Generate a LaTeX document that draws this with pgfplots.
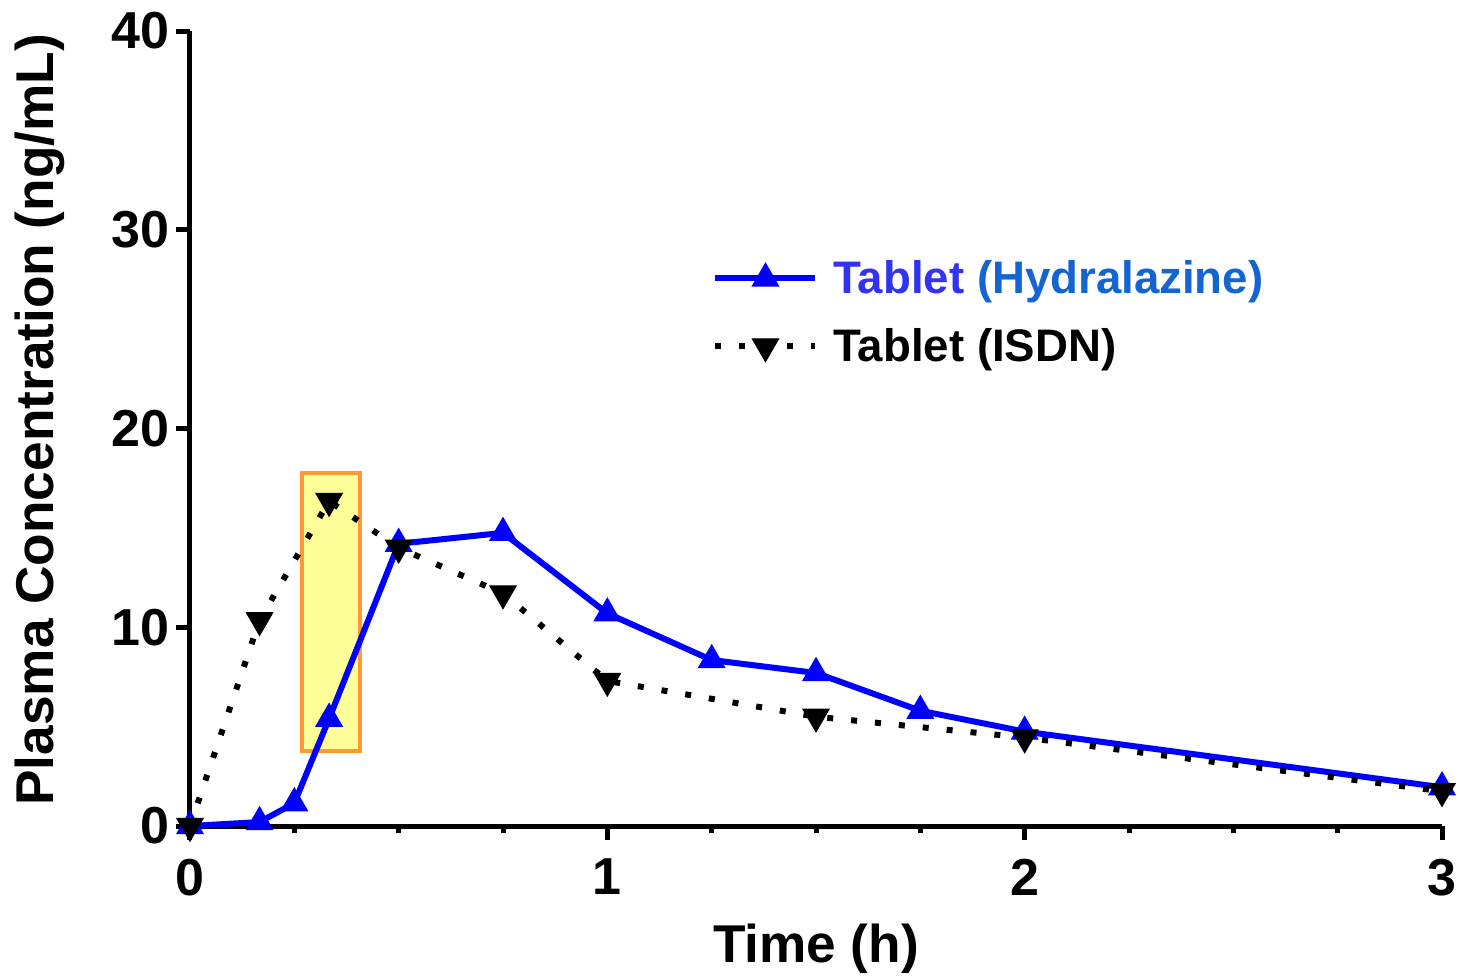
\documentclass[border=0pt]{standalone}
\usepackage{pgfplots}
\pgfplotsset{compat=1.18}
\usepackage{fontspec}
\setmainfont{Liberation Sans}

\definecolor{hlfill}{RGB}{255,255,153}
\definecolor{hldraw}{RGB}{255,153,51}
\definecolor{tabblue}{RGB}{50,50,245}
\definecolor{hydblue}{RGB}{20,100,210}

\begin{document}
\begin{tikzpicture}
\begin{axis}[
  name=ax,
  scale only axis,
  width=626pt, height=397.5pt,
  xmin=0, xmax=3, ymin=0, ymax=40,
  axis lines=left,
  every outer x axis line/.append style={-},
  every outer y axis line/.append style={-},
  axis line style={line width=2.5pt},
  xtick={0,1,2,3}, ytick={0,10,20,30,40},
  minor x tick num=3,
  tick align=outside,
  tick style={black, line width=2.5pt},
  major tick length=7pt, minor tick length=3.5pt,
  /pgf/number format/assume math mode=true,
  tick label style={font=\fontsize{26}{26}\selectfont\bfseries},
  xticklabel style={yshift=-6pt},
  label style={font=\fontsize{26.6}{26.6}\selectfont\bfseries},
  xlabel={Time (h)},
  ylabel={Plasma Concentration (ng/mL)},
  xlabel style={at={(axis description cs:0.5,-0.155)}, anchor=center},
  ylabel style={at={(axis description cs:-0.12,0.511)}, anchor=center},
  clip=false,
  legend cell align=left,
  legend style={draw=none, fill=none, at={(axis cs:1.251,25.84)}, anchor=west,
    font=\fontsize{22.8}{22.8}\selectfont\bfseries, row sep=12pt, column sep=5.5pt, inner sep=0pt},
  legend image code/.code={\draw[mark repeat=2,mark phase=2] plot coordinates {(0pt,0pt) (25pt,0pt) (50pt,0pt)};},
]
% highlighted window
\draw[fill=hlfill, draw=hldraw, line width=2pt] (axis cs:0.268,3.77) rectangle (axis cs:0.407,17.76);

\addplot[blue, line width=3pt, mark=triangle*, mark size=7.5pt,
  mark options={solid, fill=blue, draw=blue, line width=0.6pt}]
  coordinates {(0,0) (0.1667,0.2) (0.25,1.15) (0.3333,5.4) (0.5,14.2) (0.75,14.75)
    (1,10.7) (1.25,8.35) (1.5,7.7) (1.75,5.8) (2,4.75) (3,1.95)};
\addlegendentry{\textcolor{tabblue}{Tablet} \textcolor{hydblue}{(Hydralazine)}}

\addplot[black, line width=3pt, dash pattern=on 3pt off 9pt, mark=triangle*, mark size=7.5pt,
  mark options={solid, rotate=180, fill=black, draw=black, line width=0.6pt}]
  coordinates {(0,0) (0.1667,10.35) (0.3333,16.35) (0.5,14.0) (0.75,11.7)
    (1,7.3) (1.5,5.5) (2,4.45) (3,1.75)};
\addlegendentry{Tablet (ISDN)}
\end{axis}
\pgfresetboundingbox
\path ([xshift=-95pt,yshift=-74.5pt]ax.south west) rectangle ([xshift=8pt,yshift=15.5pt]ax.north east);
\end{tikzpicture}
\end{document}
